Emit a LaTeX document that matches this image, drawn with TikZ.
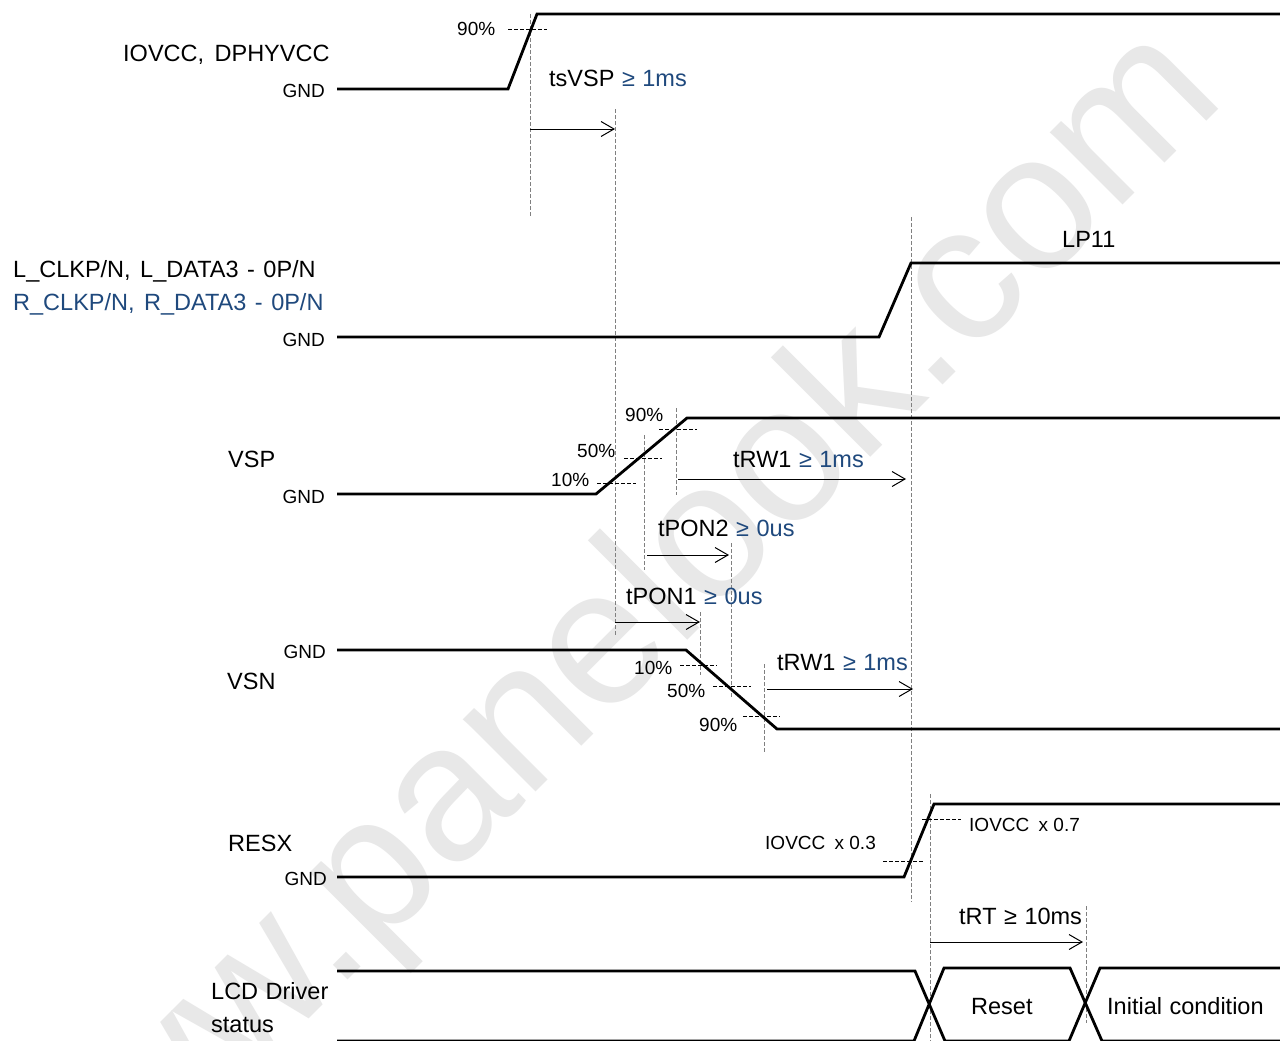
\documentclass[tikz,border=0pt]{standalone}
\usepackage{fontspec}
\setmainfont{Liberation Sans}
\usepackage{tikz}
\usetikzlibrary{arrows.meta}
\definecolor{specblue}{HTML}{1F497D}
\definecolor{stampgray}{HTML}{E8E8E8}
\newcommand{\bigfont}{\fontsize{23.5}{28}\selectfont\spaceskip 7.5pt\relax}
\tikzset{
 wave/.style={line width=2.8pt,line join=miter},
 guide/.style={gray,line width=0.9pt,dash pattern=on 4pt off 2pt},
 level/.style={black,line width=0.9pt,dash pattern=on 4pt off 2pt},
 span/.style={line width=1pt,-{Straight Barb[length=13pt,width=15pt,line width=1pt]}},
 big/.style={inner sep=0pt,font=\bigfont},
 small/.style={inner sep=0pt,font=\fontsize{19}{23}\selectfont},
}
\newcommand{\spec}[1]{\textcolor{specblue}{#1}}
\begin{document}
\begin{tikzpicture}[x=1pt,y=-1pt]
 \useasboundingbox (0,0) rectangle (1280,1041);
 \clip (0,0) rectangle (1280,1041);
 \fill[white] (0,0) rectangle (1280,1041);
 \node[anchor=base,rotate=45,inner sep=0pt,text=stampgray,font=\fontsize{194}{210}\selectfont] (stamp) at (637,691) {www.panelook.com};
 % vertical guides
 \foreach \x/\a/\b in {530/14/217,615/109/636,911.5/217/902,644/435/570,676/408/495,731/543/698,700/612/675,764/664/752,930/794/1041,1086/906/1023}
   {\draw[guide] (\x,\a)--(\x,\b);}
 % level marks
 \foreach \y/\a/\b in {29/508/547,429/659/697,458/624/662,483/597/636,665/680/717,686/713/751,716/743/780,861/883/923,819/922/961}
   {\draw[level] (\a,\y)--(\b,\y);}
 % waveforms
 \draw[wave] (337,89)--(508,89)--(537,14)--(1280,14);
 \draw[wave] (337,337)--(879,337)--(911,263)--(1280,263);
 \draw[wave] (337,494)--(596,494)--(687,418)--(1280,418);
 \draw[wave] (337,650)--(686,650)--(777,729)--(1280,729);
 \draw[wave] (337,877)--(904,877)--(934,804)--(1280,804);
 \draw[wave] (337,971)--(915,971)--(945,1041) (337,1041)--(914,1041)--(944,968)--(1070,968)--(1102,1041)--(1280,1041);
 \draw[wave] (944,1041)--(1069,1041)--(1100,968)--(1280,968);
 % timing arrows
 \foreach \y/\a/\b in {129/530/615,479/678/906,555/647/729,622/615/700,689/767/913,942/930/1083}
   {\draw[span] (\a,\y)--(\b,\y);}
 % left labels
 \foreach \n/\x/\y/\t in {iovcc/123/62/{IOVCC,\kern3pt{} DPHYVCC},lclk/13/277/{L\_CLKP/N,\kern2pt{} L\_DATA3\kern1pt{} -\kern1pt{} 0P/N},rclk/13/310/{\spec{R\_CLKP/N,\kern2pt{} R\_DATA3\kern1pt{} -\kern1pt{} 0P/N}},vsp/228/467/VSP,vsn/227/689/VSN,resx/228/851/RESX,lcd/211/999/LCD Driver,stat/211/1032/status,lp/1062/247/LP11,reset/971/1014/Reset,init/1107/1014/Initial condition}
   {\node[big,anchor=base west] (\n) at (\x,\y) {\t};}
 \foreach \n/\x/\y in {gnda/325/97,gndb/325/346,gndc/325/503,gndd/326/658,gnde/327/885}
   {\node[small,anchor=base east] (\n) at (\x,\y) {GND};}
 \foreach \n/\x/\y/\t in {pa/457/36/90\%,pb/625/421/90\%,pc/577/457/50\%,pd/551/486/10\%,pe/634/674/10\%,pf/667/697/50\%,pg/699/731/90\%,rl/765/849/{IOVCC\kern4pt{} x 0.3},rh/969/831/{IOVCC\kern4pt{} x 0.7}}
   {\node[small,anchor=base west] (\n) at (\x,\y) {\t};}
 % timing labels
 \node[big,anchor=base west] (tsvsp) at (549,86) {tsVSP \spec{≥ 1ms}};
 \node[big,anchor=base west] (trwa) at (733,467) {tRW1 \spec{≥ 1ms}};
 \node[big,anchor=base west] (tpontwo) at (658,536) {tPON2 \spec{≥ 0us}};
 \node[big,anchor=base west] (tponone) at (626,604) {tPON1 \spec{≥ 0us}};
 \node[big,anchor=base west] (trwb) at (777,670) {tRW1 \spec{≥ 1ms}};
 \node[big,anchor=base west] (trt) at (959,924) {tRT ≥ 10ms};
\end{tikzpicture}
\end{document}
